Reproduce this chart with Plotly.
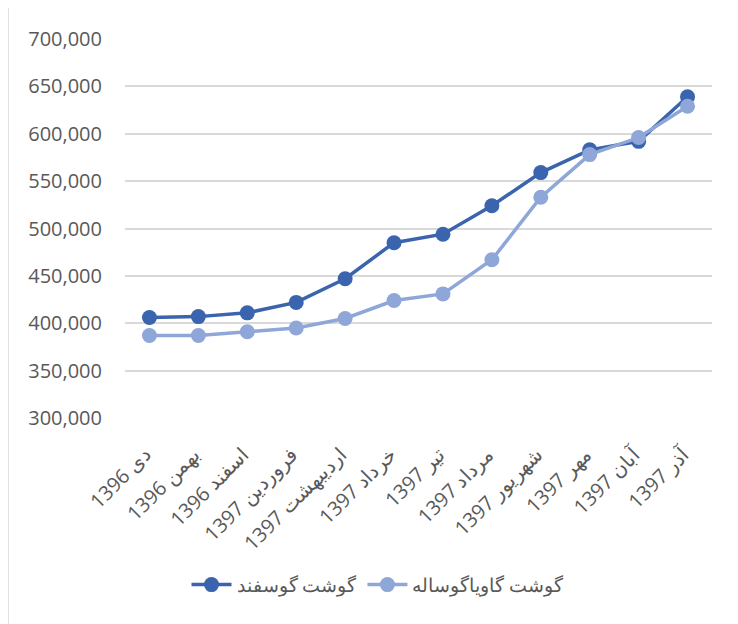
import plotly.graph_objects as go

categories = ["دی 1396", "بهمن 1396", "اسفند 1396", "فروردین 1397", "اردیبهشت 1397", "خرداد 1397",
              "تیر 1397", "مرداد 1397", "شهریور 1397", "مهر 1397", "آبان 1397", "آذر 1397"]
sheep = [406000, 407000, 411000, 422000, 447000, 485000, 494000, 524000, 559000, 583000, 592000, 639000]
beef = [387000, 387000, 391000, 395000, 405000, 424000, 431000, 467000, 533000, 578000, 596000, 629000]
name_sheep = "گوشت گوسفند"
name_beef = "گوشت گاویاگوساله"
y_ticks = [300000, 350000, 400000, 450000, 500000, 550000, 600000, 650000, 700000]

dark = "#3A64AD"
light = "#8FA7D8"
font_family = "Open Sans, Noto Sans, Arial, sans-serif"

fig = go.Figure()
fig.add_trace(go.Scatter(x=categories, y=sheep, name=name_sheep, mode="lines+markers",
                         line=dict(color=dark, width=3.5), marker=dict(color=dark, size=15)))
fig.add_trace(go.Scatter(x=categories, y=beef, name=name_beef, mode="lines+markers",
                         line=dict(color=light, width=3.5), marker=dict(color=light, size=15)))

W, H = 730, 616
L, R, T, B = 117, 26, 31, 206
PW, PH = W - L - R, H - T - B

fig.update_layout(
    width=W, height=H,
    margin=dict(l=L, r=R, t=T, b=B, autoexpand=False),
    paper_bgcolor="white", plot_bgcolor="white",
    font=dict(family=font_family, color="#595959"),
    showlegend=True,
    legend=dict(orientation="h", x=(370 - L) / PW, xanchor="center", y=-0.44, yanchor="middle",
                font=dict(size=19, color="#595959"), traceorder="normal", itemwidth=40),
    xaxis=dict(type="category", range=[-0.5, 11.5], tickangle=-45,
               tickfont=dict(size=20, color="#595959"),
               tickmode="array", tickvals=categories,
               ticktext=["\u202B" + c + "\u202C" for c in categories],
               ticklabelstandoff=20, ticklabelshift=-4,
               showgrid=False, showline=False, ticks="", zeroline=False, automargin=False),
    yaxis=dict(range=[300000, 700000], tickvals=y_ticks, tickformat=",d",
               tickfont=dict(size=20, color="#595959"), gridcolor="#D9D9D9", gridwidth=1.5,
               showline=False, zeroline=False, ticks="", ticklabelstandoff=22, automargin=False),
    shapes=[dict(type="line", xref="paper", yref="paper", x0=-L / PW, x1=-L / PW,
                 y0=-B / PH, y1=1 + T / PH, line=dict(color="#D9D9D9", width=1.5))],
)
fig.write_html("out.html")
